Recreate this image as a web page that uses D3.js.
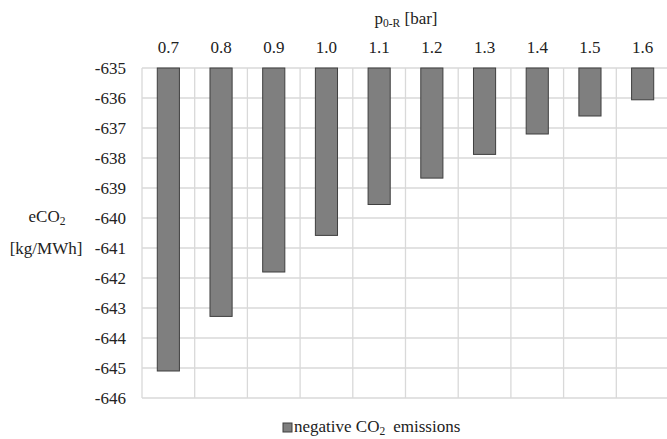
<!DOCTYPE html>
<html>
<head>
<meta charset="utf-8">
<script src="https://cdn.jsdelivr.net/npm/d3@7"></script>
<style>
  body { margin: 0; background: #fff; }
  svg text { font-family: 'Liberation Serif', 'Times New Roman', serif; }
</style>
</head>
<body>
<svg width="667" height="439" font-family="Liberation Serif"></svg>
<script>
var pressures = ['0.7', '0.8', '0.9', '1.0', '1.1', '1.2', '1.3', '1.4', '1.5', '1.6'];
var emissions = [-645.1, -643.28, -641.8, -640.58, -639.55, -638.67, -637.88, -637.2, -636.6, -636.06];
var yTicks = [-635, -636, -637, -638, -639, -640, -641, -642, -643, -644, -645, -646];

var INK = '#222';
var FS = 17;

var svg = d3.select('svg'),
  margin = { top: 68, right: -2, bottom: 41, left: 142 },
  width = +svg.attr('width') - margin.left - margin.right,
  height = +svg.attr('height') - margin.top - margin.bottom;

var x = d3.scaleBand().domain(pressures).range([0, width]).paddingInner(0.58).paddingOuter(0.29);
var grid = d3.scaleBand().domain(pressures).range([0, width]);
var y = d3.scaleLinear().domain([-635, -646]).range([0, height]);

var g = svg.append('g').attr('transform', 'translate(' + margin.left + ',' + margin.top + ')');

// grid
g.selectAll('.hgrid')
  .data(yTicks)
  .join('line')
  .attr('x1', 0).attr('x2', width)
  .attr('y1', (d) => y(d)).attr('y2', (d) => y(d))
  .attr('stroke', '#d9d9d9').attr('stroke-width', 1.3);

g.selectAll('.vgrid')
  .data(pressures)
  .join('line')
  .attr('x1', (d) => grid(d)).attr('x2', (d) => grid(d))
  .attr('y1', 0).attr('y2', height)
  .attr('stroke', '#d9d9d9').attr('stroke-width', 1.3);

// bars hang from the top (-635)
g.selectAll('.bar')
  .data(emissions)
  .join('rect')
  .attr('x', (d, i) => x(pressures[i]))
  .attr('y', y(-635))
  .attr('width', x.bandwidth())
  .attr('height', (d) => y(d) - y(-635))
  .attr('fill', '#7f7f7f')
  .attr('stroke', '#3f3f3f')
  .attr('stroke-width', 1);

// y axis labels
var yAxis = g.append('g')
  .call(d3.axisLeft(y).tickValues(yTicks).tickSize(0).tickPadding(16).tickFormat((d) => String(d)));
yAxis.attr('font-family', null);
yAxis.select('.domain').remove();
yAxis.selectAll('text').attr('font-size', FS).attr('fill', INK);

// x axis labels on top
var xAxis = g.append('g').call(d3.axisTop(grid).tickSize(0).tickPadding(15));
xAxis.attr('font-family', null);
xAxis.select('.domain').remove();
xAxis.selectAll('text').attr('font-size', FS).attr('fill', INK);

// x title
var xt = svg.append('text').attr('x', 406).attr('y', 24).attr('text-anchor', 'middle')
  .attr('font-size', FS).attr('fill', INK);
xt.append('tspan').text('p');
xt.append('tspan').text('0-R').attr('font-size', 11.5).attr('dy', 3);
xt.append('tspan').text(' [bar]').attr('dy', -3);

// y title
var yt = svg.append('text').attr('x', 47).attr('y', 222).attr('text-anchor', 'middle')
  .attr('font-size', FS).attr('fill', INK);
yt.append('tspan').text('eCO');
yt.append('tspan').text('2').attr('font-size', 11.5).attr('dy', 3);
svg.append('text').attr('x', 46).attr('y', 254).attr('text-anchor', 'middle')
  .attr('font-size', FS).attr('fill', INK).text('[kg/MWh]');

// legend
svg.append('rect').attr('x', 283).attr('y', 423).attr('width', 9).attr('height', 9)
  .attr('fill', '#7f7f7f').attr('stroke', '#3f3f3f');
var lt = svg.append('text').attr('x', 294).attr('y', 432)
  .attr('font-size', FS).attr('fill', INK);
lt.append('tspan').text('negative CO');
lt.append('tspan').text('2').attr('font-size', 11.5).attr('dy', 3);
lt.append('tspan').text('emissions').attr('dy', -3).attr('dx', 8);
</script>
</body>
</html>
